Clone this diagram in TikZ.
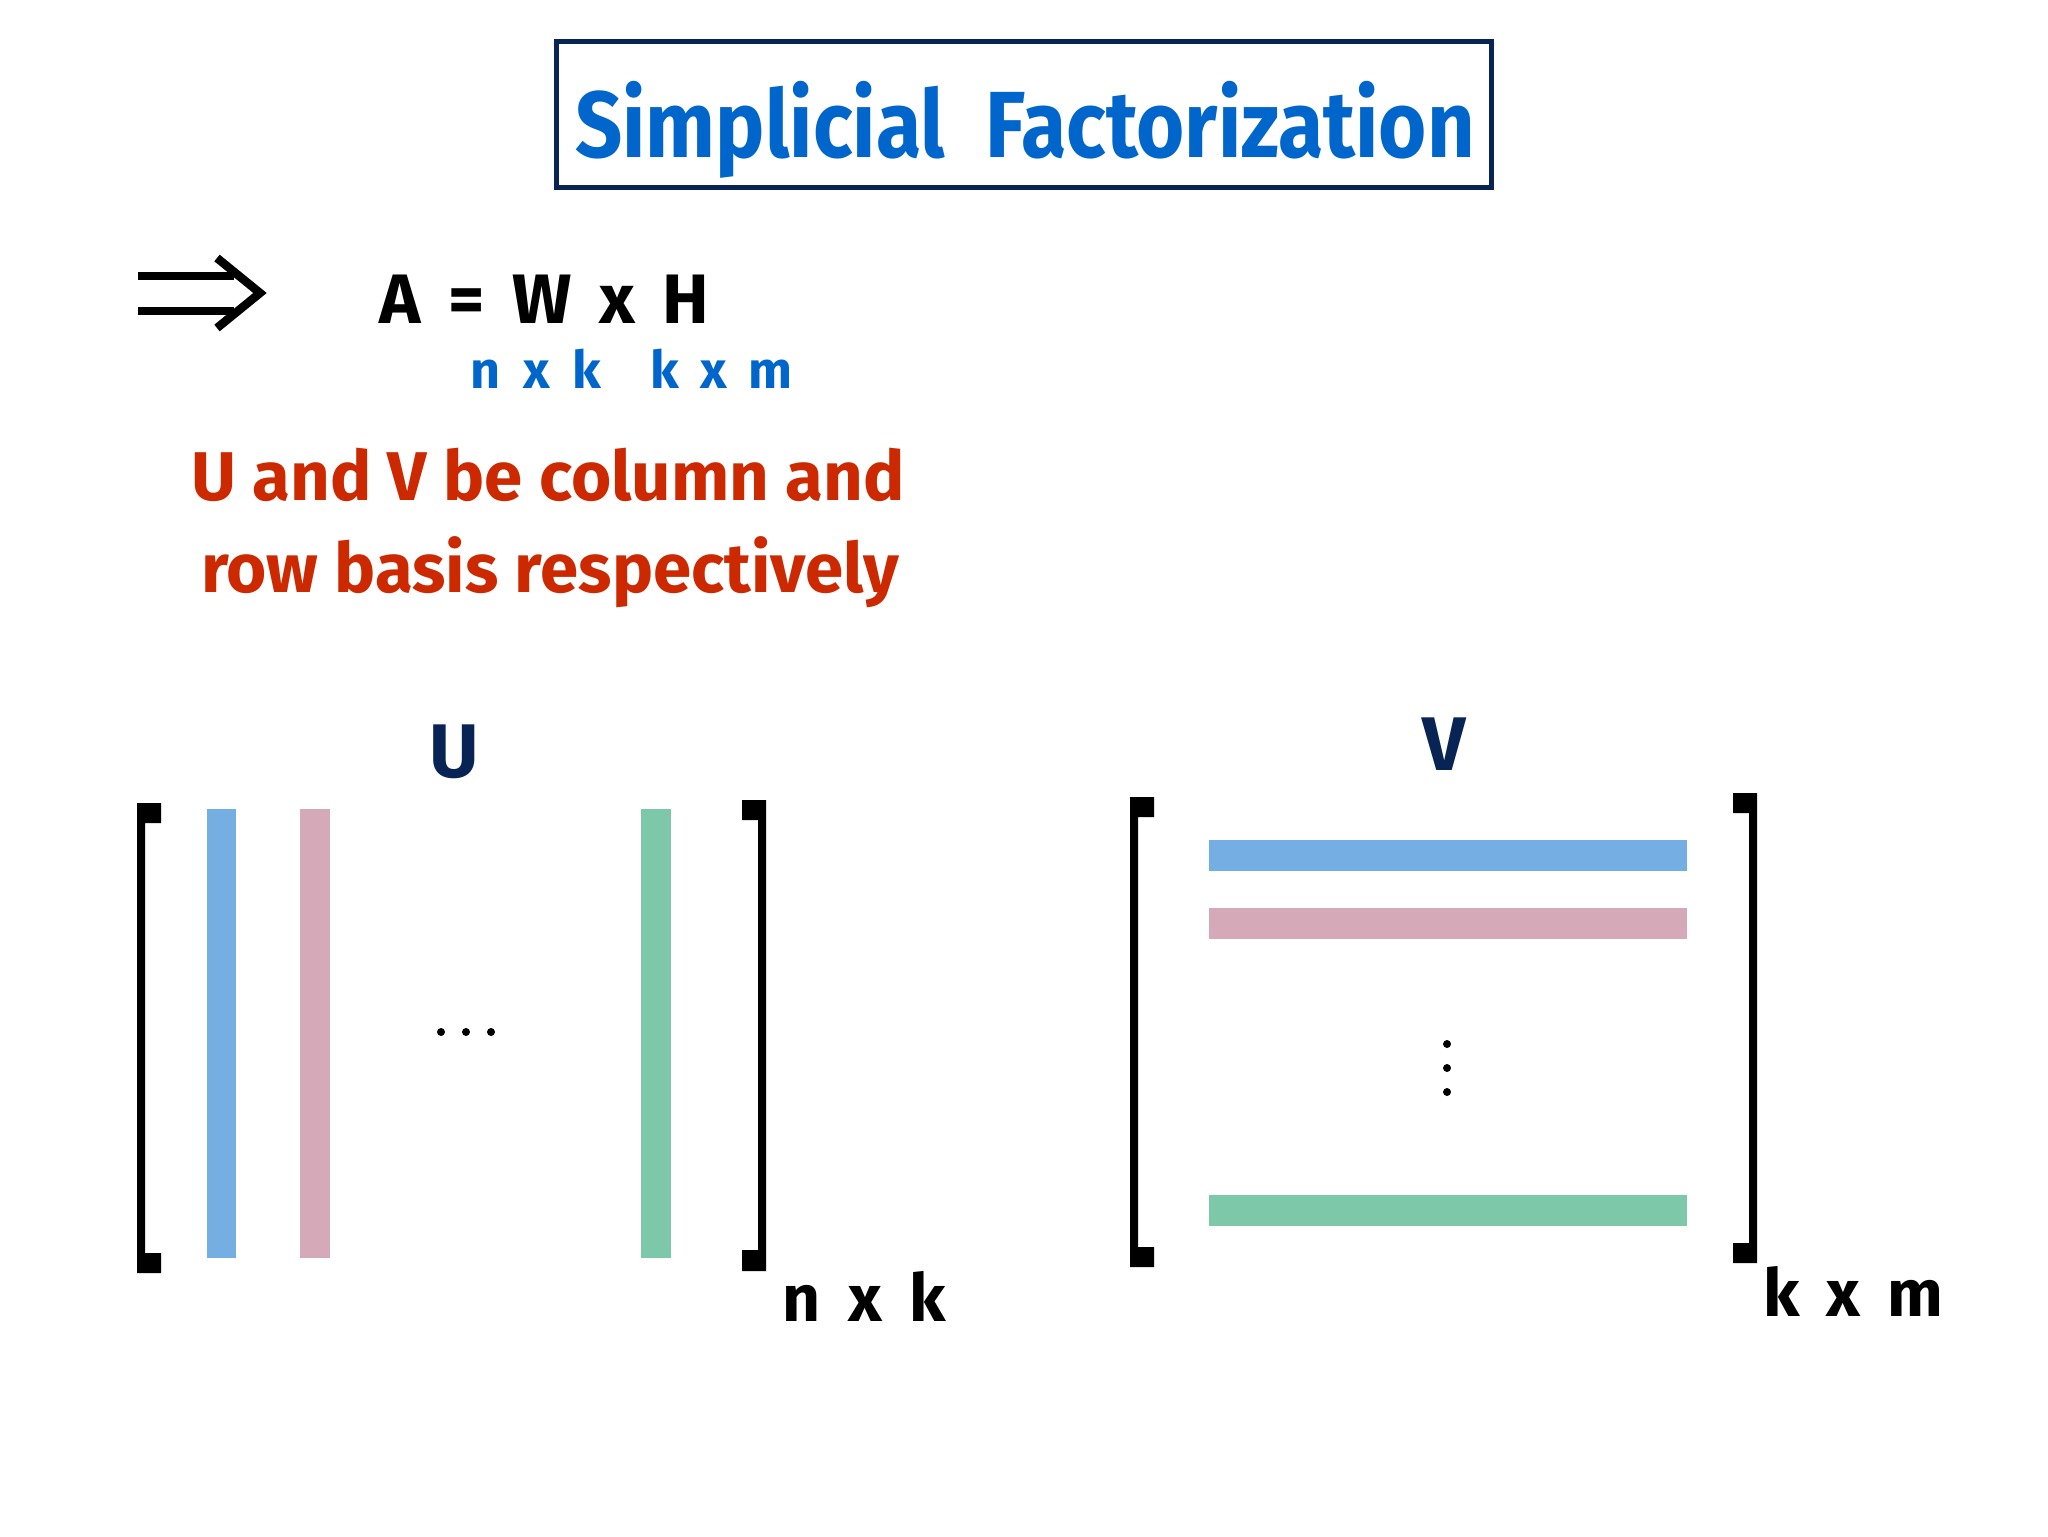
\documentclass[tikz,border=0pt]{standalone}
\usepackage{fontspec}
\setmainfont{Fira Sans}

\tikzset{every picture/.style={line width=0.75pt}}
\tikzset{
  titleframe/.style={draw={rgb, 255:red, 8; green, 36; blue, 84}, line width=2.5pt},
  titletext/.style={inner sep=0pt, text={rgb, 255:red, 0; green, 102; blue, 204}, font=\fontsize{47}{56}\selectfont\bfseries},
  eqtext/.style={inner sep=0pt, text=black, font=\fontsize{35}{42}\selectfont\bfseries},
  dimtext/.style={inner sep=0pt, text={rgb, 255:red, 0; green, 102; blue, 204}, font=\fontsize{26}{31}\selectfont\bfseries},
  redtext/.style={inner sep=0pt, text={rgb, 255:red, 204; green, 41; blue, 0}, font=\fontsize{34.5}{41}\selectfont\bfseries},
  matlabel/.style={inner sep=0pt, text={rgb, 255:red, 8; green, 36; blue, 84}, font=\fontsize{38}{45}\selectfont\bfseries},
  dimlabel/.style={inner sep=0pt, text=black, font=\fontsize{33}{40}\selectfont\bfseries},
  implyline/.style={draw=black, line width=4.25pt},
  bluebar/.style={fill={rgb, 255:red, 116; green, 174; blue, 226}},
  pinkbar/.style={fill={rgb, 255:red, 213; green, 169; blue, 183}},
  greenbar/.style={fill={rgb, 255:red, 125; green, 200; blue, 168}}
}

\begin{document}
\begin{tikzpicture}[x=0.5pt,y=0.5pt,yscale=-1,xscale=1]
        \useasboundingbox (0,0) rectangle (2048,1536);
        \fill [white] (0,0) rectangle (2048,1536);

        %Shape: Rectangle [title frame]
        \draw [titleframe] (556,42) rectangle (1491,187);
        % Text Node
        \node [titletext, anchor=base, xscale=0.88] (title) at (1025,157) {Simplicial\hspace{12pt} Factorization};

        %Shape: Double Arrow
        \draw [implyline] (138,276) -- (234,276) (138,311) -- (234,311);
        \draw [implyline, line join=miter] (217,258) -- (260,293) -- (217,328);

        % Text Node
        \node [eqtext, anchor=base west] (eq) at (379,323) {A\hspace{5.5pt} =\hspace{5.5pt} W\hspace{5.5pt} x\hspace{5.5pt} H};
        % Text Node
        \node [dimtext, anchor=base west] (wdim) at (470,388) {n\hspace{5pt} x\hspace{5pt} k};
        % Text Node
        \node [dimtext, anchor=base west] (hdim) at (650,388) {k\hspace{4.5pt} x\hspace{4.5pt} m};
        % Text Node
        \node [redtext, anchor=base] (lineone) at (548,500) {U and V be column and};
        % Text Node
        \node [redtext, anchor=base] (linetwo) at (550,592) {row basis respectively};

        % Text Node
        \node [matlabel, anchor=base] (ulabel) at (454,777) {U};
        % Text Node
        \node [matlabel, anchor=base] (vlabel) at (1444,770) {V};

        %Shape: Bracket [U left]
        \fill (137,803) -- (161,803) -- (161,823) -- (145,823) -- (145,1253) -- (161,1253) -- (161,1273) -- (137,1273) -- cycle;
        %Shape: Bracket [U right]
        \fill (766,800) -- (742,800) -- (742,820) -- (758,820) -- (758,1250) -- (742,1250) -- (742,1271) -- (766,1271) -- cycle;
        %Shape: Bracket [V left]
        \fill (1130,797) -- (1154,797) -- (1154,817) -- (1138,817) -- (1138,1247) -- (1154,1247) -- (1154,1267) -- (1130,1267) -- cycle;
        %Shape: Bracket [V right]
        \fill (1757,793) -- (1733,793) -- (1733,813) -- (1749,813) -- (1749,1243) -- (1733,1243) -- (1733,1263) -- (1757,1263) -- cycle;

        %Shape: Rectangle [columns of U]
        \fill [bluebar] (207,809) rectangle (236,1258);
        \fill [pinkbar] (300,809) rectangle (330,1258);
        \fill [greenbar] (641,809) rectangle (671,1258);
        %Shape: Rectangle [rows of V]
        \fill [bluebar] (1209,840) rectangle (1687,871);
        \fill [pinkbar] (1209,908) rectangle (1687,939);
        \fill [greenbar] (1209,1195) rectangle (1687,1226);

        %Shape: Dots
        \foreach \dx in {441,466,491} \fill (\dx,1032) circle (4);
        \foreach \dy in {1044,1068,1092} \fill (1447,\dy) circle (4);

        % Text Node
        \node [dimlabel, anchor=base west] (udim) at (782,1321) {n\hspace{6pt} x\hspace{6pt} k};
        % Text Node
        \node [dimlabel, anchor=base west] (vdim) at (1763,1316) {k\hspace{5.5pt} x\hspace{5.5pt} m};
\end{tikzpicture}
\end{document}
